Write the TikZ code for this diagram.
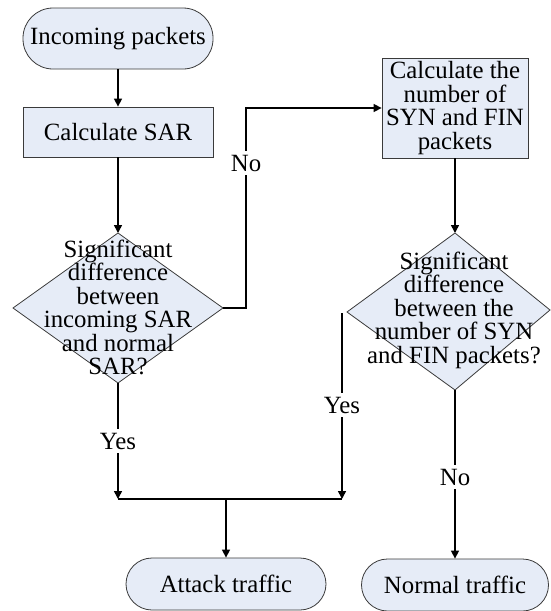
\documentclass[tikz,border=0pt]{standalone}
\usepackage{fontspec}
\setmainfont{Liberation Serif}
\usetikzlibrary{arrows.meta}
\definecolor{boxfill}{HTML}{E6ECF7}
\definecolor{boxline}{HTML}{3A3A3A}
\begin{document}
\begin{tikzpicture}[x=1pt,y=-1pt,
  every node/.style={font=\fontsize{24.8}{23.5}\selectfont, inner sep=0pt, align=center},
  term/.style={draw=boxline, fill=boxfill, line width=0.8pt},
  proc/.style={draw=boxline, fill=boxfill, line width=0.8pt},
  dec/.style={draw=boxline, fill=boxfill, line width=0.8pt},
  flow/.style={line width=1.5pt, draw=black},
  arr/.style={flow, -{Triangle[length=8pt,width=8pt]}},
  lbl/.style={fill=white, inner xsep=1pt, inner ysep=4pt}]
\useasboundingbox (0,0) rectangle (551,611);

% terminals and processes
\node[term, minimum width=190pt, minimum height=61pt, rounded corners=30pt] (inc) at (118,38.5) {Incoming packets};
\node[proc, minimum width=190pt, minimum height=50pt] (sar) at (118,132) {Calculate SAR};
\node[proc, minimum width=146pt, minimum height=100pt] (cnt) at (455,108) {Calculate the\\number of\\SYN and FIN\\packets};
\node[term, minimum width=200pt, minimum height=52pt, rounded corners=26pt] (atk) at (226,584) {Attack traffic};
\node[term, minimum width=187pt, minimum height=52pt, rounded corners=26pt] (nrm) at (455,585) {Normal traffic};

% decision 1
\coordinate (d1t) at (118,233);
\coordinate (d1r) at (223,308);
\coordinate (d1b) at (118,383);
\coordinate (d1l) at (13,308);
\draw[dec] (d1t) -- (d1r) -- (d1b) -- (d1l) -- cycle;
\node (d1) at (118,307.5) {Significant\\difference\\between\\incoming SAR\\and normal\\SAR?};

% decision 2
\coordinate (d2t) at (455,233);
\coordinate (d2r) at (550,310);
\coordinate (d2b) at (455,390);
\coordinate (d2l) at (347,312);
\draw[dec] (d2t) -- (d2r) -- (d2b) -- (d2l) -- cycle;
\node (d2) at (454,310) {Significant\\difference\\between the\\number of SYN\\and FIN packets?};

% connectors
\draw[arr] (inc) -- (sar);
\draw[arr] (sar) -- (d1t);
\coordinate (nob) at (246,308);
\draw[arr] (d1r) -- (nob) |- (cnt.west);
\node[lbl] (no1) at (246,163) {No};
\draw[arr] (cnt) -- (d2t);

\coordinate (ys) at (342,313);
\coordinate (yj) at (342,499);
\coordinate (lj) at (118,499);
\coordinate (mj) at (226,499);
\draw[arr] (ys) -- (yj);
\draw[arr] (d1b) -- (lj);
\draw[flow] (lj) -- (yj);
\draw[arr] (mj) -- (atk);
\node[lbl] (yes2) at (342,405) {Yes};
\node[lbl] (yes1) at (118,441) {Yes};

\draw[arr] (d2b) -- (nrm);
\node[lbl] (no2) at (455,477) {No};
\end{tikzpicture}
\end{document}
